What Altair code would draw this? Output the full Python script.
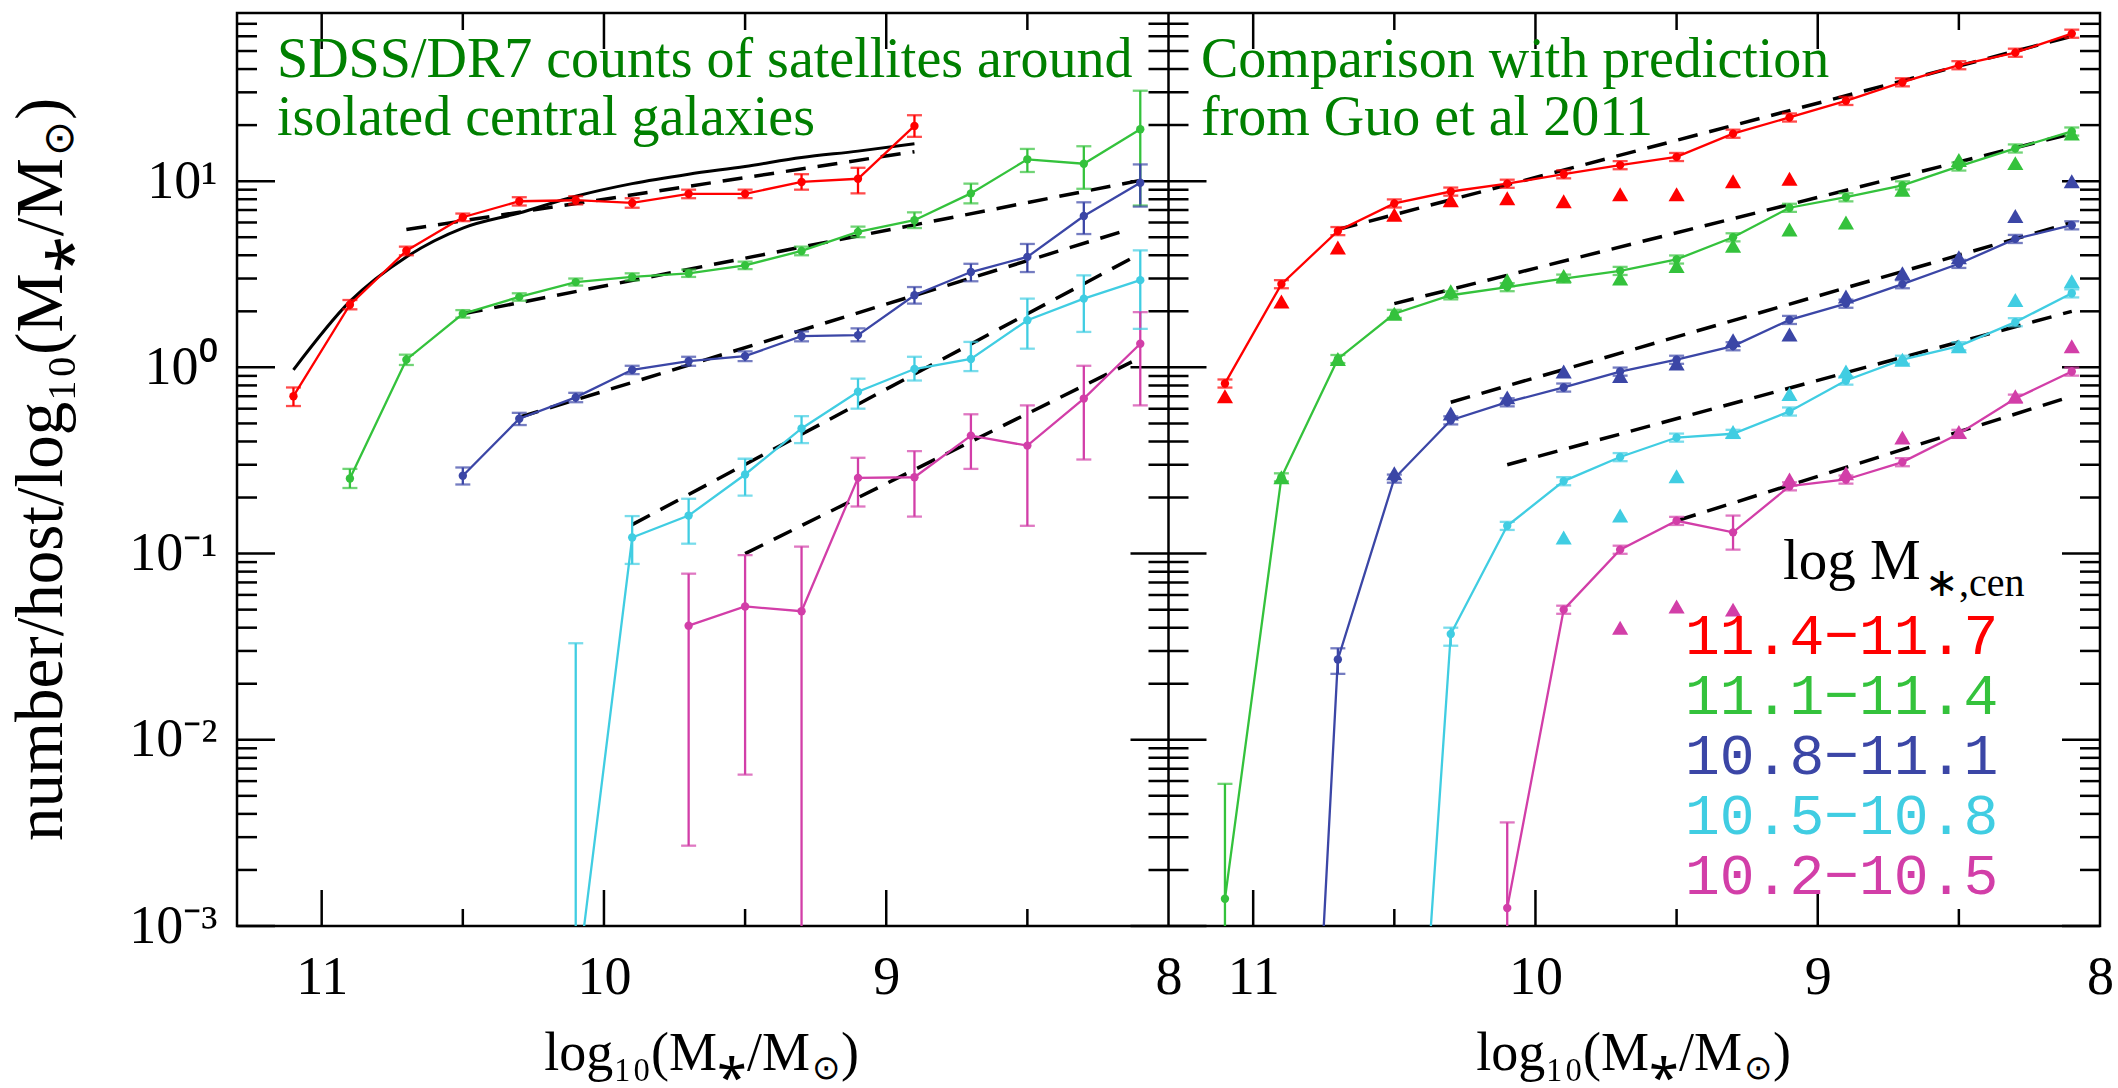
import altair as alt
import pandas as pd

# ---------------- data ----------------
BINS = ["11.4\u221211.7", "11.1\u221211.4", "10.8\u221211.1", "10.5\u221210.8", "10.2\u221210.5"]
COLORS = ["#ff0000", "#34c23c", "#3b46a6", "#40cde2", "#d23ea8"]

GRID = [11.1, 10.9, 10.7, 10.5, 10.3, 10.1, 9.9, 9.7, 9.5, 9.3, 9.1, 8.9, 8.7, 8.5, 8.3, 8.1]

# Left panel: SDSS/DR7 satellite counts (start index in GRID, values, lower, upper)
sdss_red_y = [0.70, 2.17, 4.23, 6.4, 7.8, 7.9, 7.64, 8.55, 8.55, 9.9, 10.3, 19.8]
sdss_red_lo = [0.62, 2.05, 4.0, 6.1, 7.4, 7.5, 7.2, 8.1, 8.1, 9.0, 8.6, 17.3]
sdss_red_hi = [0.78, 2.3, 4.45, 6.7, 8.2, 8.3, 8.1, 9.0, 9.0, 10.9, 11.8, 22.6]

sdss_green_y = [0.253, 1.1, 1.94, 2.39, 2.87, 3.06, 3.2, 3.53, 4.22, 5.34, 6.17, 8.6, 13.1, 12.4, 19.0]
sdss_green_lo = [0.225, 1.03, 1.85, 2.28, 2.75, 2.93, 3.06, 3.37, 4.0, 5.0, 5.6, 7.6, 11.2, 9.1, 7.4]
sdss_green_hi = [0.285, 1.17, 2.03, 2.5, 3.0, 3.2, 3.35, 3.7, 4.45, 5.7, 6.8, 9.7, 14.9, 15.4, 30.6]

sdss_blue_y = [0.262, 0.53, 0.69, 0.97, 1.08, 1.15, 1.47, 1.49, 2.44, 3.25, 3.92, 6.5, 9.8]
sdss_blue_lo = [0.235, 0.49, 0.65, 0.92, 1.02, 1.08, 1.38, 1.38, 2.2, 2.9, 3.25, 5.2, 7.3]
sdss_blue_hi = [0.29, 0.57, 0.73, 1.02, 1.14, 1.22, 1.56, 1.62, 2.7, 3.6, 4.6, 7.7, 12.3]

sdss_cyan_y = [0.00043, 0.122, 0.16, 0.266, 0.47, 0.74, 0.98, 1.11, 1.79, 2.34, 2.94]
sdss_cyan_lo = [1e-6, 0.088, 0.113, 0.205, 0.392, 0.60, 0.85, 0.955, 1.26, 1.55, 1.61]
sdss_cyan_hi = [0.033, 0.159, 0.197, 0.323, 0.547, 0.87, 1.14, 1.37, 2.34, 3.12, 4.25]

sdss_mag_y = [0.041, 0.052, 0.049, 0.255, 0.257, 0.43, 0.38, 0.68, 1.34]
sdss_mag_lo = [0.0027, 0.0065, 1e-6, 0.179, 0.158, 0.285, 0.141, 0.32, 0.625]
sdss_mag_hi = [0.078, 0.098, 0.109, 0.327, 0.355, 0.56, 0.625, 1.02, 1.98]

SDSS = [
    (0, sdss_red_y, sdss_red_lo, sdss_red_hi),
    (1, sdss_green_y, sdss_green_lo, sdss_green_hi),
    (3, sdss_blue_y, sdss_blue_lo, sdss_blue_hi),
    (5, sdss_cyan_y, sdss_cyan_lo, sdss_cyan_hi),
    (7, sdss_mag_y, sdss_mag_lo, sdss_mag_hi),
]

# Black solid curve (left panel)
black_y = [0.97, 2.26, 3.92, 5.6, 6.75, 8.3, 9.7, 10.9, 12.0, 13.4, 14.5, 15.9]

# Right panel: model counts (lines with points), start index in GRID
guo_red_y = [0.82, 2.8, 5.4, 7.6, 8.8, 9.7, 10.9, 12.2, 13.5, 18.0, 22.0, 27.0, 34.0, 42.0, 49.0, 62.0]
guo_green_y = [0.0014, 0.257, 1.11, 1.94, 2.44, 2.7, 3.0, 3.3, 3.8, 5.0, 7.2, 8.2, 9.5, 12.0, 15.0, 18.5]
guo_blue_y = [5e-8, 0.027, 0.253, 0.52, 0.65, 0.78, 0.95, 1.1, 1.3, 1.8, 2.2, 2.8, 3.6, 4.9, 5.8]
guo_cyan_y = [1.3e-6, 0.037, 0.141, 0.245, 0.33, 0.42, 0.44, 0.58, 0.85, 1.1, 1.3, 1.75, 2.5]
guo_mag_y = [0.00125, 0.05, 0.105, 0.15, 0.13, 0.23, 0.25, 0.31, 0.44, 0.68, 0.95]
GUO = [(0, guo_red_y), (0, guo_green_y), (1, guo_blue_y), (3, guo_cyan_y), (5, guo_mag_y)]
GUO_REL_ERR = 0.05
# larger model error bars: (bin index, x, lower, upper)
guo_err = [(1, 11.1, 1e-6, 0.0058), (2, 10.7, 0.0226, 0.031), (3, 10.3, 0.032, 0.040),
           (4, 10.1, 1e-6, 0.0036), (4, 9.3, 0.105, 0.16)]

# Right panel: triangles (second model), start index in GRID
tri_red_y = [0.70, 2.26, 4.4, 6.6, 7.9, 8.1, 7.8, 8.5, 8.5, 10.0, 10.3]
tri_green_y = [0.257, 1.11, 1.94, 2.56, 2.94, 3.1, 3.0, 3.5, 4.5, 5.5, 6.0, 9.0, 13.0, 12.5, 18.0]
tri_blue_y = [0.27, 0.565, 0.69, 0.95, 0.9, 1.05, 1.4, 1.5, 2.4, 3.2, 3.9, 6.5, 10.0]
tri_cyan_y = [0.122, 0.16, 0.26, 0.45, 0.72, 0.95, 1.1, 1.3, 2.3, 2.9]
tri_mag_y = [0.04, 0.052, 0.05, 0.25, 0.27, 0.42, 0.45, 0.7, 1.3]
TRI = [(0, tri_red_y), (1, tri_green_y), (3, tri_blue_y), (6, tri_cyan_y), (7, tri_mag_y)]

# Dashed power-law lines: (x1, y1, x2, y2)
fit_left = [(10.7, 5.5, 8.9, 14.4), (10.5, 1.94, 8.1, 10.1), (10.3, 0.54, 8.15, 5.45),
            (9.9, 0.143, 8.1, 4.08), (9.5, 0.10, 8.13, 1.07)]
fit_right = [(10.7, 5.5, 8.1, 60.0), (10.5, 2.2, 8.1, 18.0), (10.3, 0.65, 8.1, 6.0),
             (10.1, 0.30, 8.1, 2.0), (9.5, 0.15, 8.1, 0.7)]

TITLE_LEFT = "SDSS/DR7 counts of satellites around\nisolated central galaxies"
TITLE_RIGHT = "Comparison with prediction\nfrom Guo et al 2011"
XTITLE = ["log\u2081\u2080(M\u204e/M", "\u2299", ")"]
YTITLE = ["number/host/log\u2081\u2080(M\u204e/M", "\u2299", ")"]
LEG_TITLE = ["log M", "\u2217,cen"]

Y_MAJOR = [0.001, 0.01, 0.1, 1, 10]
Y_MINOR = [m * 10.0 ** k for k in range(-3, 2) for m in range(2, 10) if m * 10.0 ** k < 80]
X_MAJOR = [11, 10, 9]
X_MINOR = [10.5, 9.5, 8.5]

# ---------------- tables ----------------
err_map = {(BINS[b], x): (lo, hi) for b, x, lo, hi in guo_err}
pts_rows = []
for b, (start, ys, los, his) in enumerate(SDSS):
    for i, (v, lo, hi) in enumerate(zip(ys, los, his)):
        pts_rows.append(dict(panel=0, bin=BINS[b], x=GRID[start + i], y=v, lo=lo, hi=hi))
for b, (start, ys) in enumerate(GUO):
    for i, v in enumerate(ys):
        x = GRID[start + i]
        lo, hi = err_map.get((BINS[b], x), (v * (1 - GUO_REL_ERR), v * (1 + GUO_REL_ERR)))
        pts_rows.append(dict(panel=1, bin=BINS[b], x=x, y=v, lo=lo, hi=hi))
pts = pd.DataFrame(pts_rows)

tri = pd.DataFrame([dict(panel=1, bin=BINS[b], x=GRID[s + i], y=v)
                    for b, (s, ys) in enumerate(TRI) for i, v in enumerate(ys)])

fit_rows = []
for p, fits in ((0, fit_left), (1, fit_right)):
    for b, (x1, y1, x2, y2) in enumerate(fits):
        fit_rows.append(dict(panel=p, bin=BINS[b], key=f"{p}_{b}", x=x1, y=y1))
        fit_rows.append(dict(panel=p, bin=BINS[b], key=f"{p}_{b}", x=x2, y=y2))
fits_df = pd.DataFrame(fit_rows)

black = pd.DataFrame(dict(panel=0, x=GRID[:len(black_y)], y=black_y))

# ---------------- encodings ----------------
W, H = 1863, 913
U = "datum.panel * 3.3 + 11.3 - datum.x"
XS = alt.Scale(domain=[0, 6.6], nice=False, zero=False)
YS = alt.Scale(type="log", domain=[0.001, 80], nice=False)
FONT = "Liberation Serif"

XAX = alt.Axis(values=[0.3, 1.3, 2.3, 3.3, 3.6, 4.6, 5.6, 6.6],
               labelExpr="round(datum.value < 3.31 ? 11.3 - datum.value : 14.6 - datum.value)",
               ticks=False, domain=False, grid=False, labelFont=FONT, labelFontSize=54,
               labelColor="black", labelPadding=24, labelOverlap=False, labelFlush=False,
               labelBound=False, title=None)
YAX = alt.Axis(values=Y_MAJOR,
               labelExpr="'10' + (datum.value >= 9 ? '\u00b9' : datum.value >= 0.9 ? '\u2070' : "
                         "datum.value >= 0.09 ? '\u207b\u00b9' : datum.value >= 0.009 ? '\u207b\u00b2' : '\u207b\u00b3')",
               ticks=False, domain=False, grid=False, labelFont=FONT, labelFontSize=54,
               labelColor="black", labelPadding=20, labelOverlap=False, labelFlush=False,
               labelBound=False, title=None)

X = alt.X("u:Q", scale=XS, axis=XAX)
Y = alt.Y("y:Q", scale=YS, axis=YAX)
C = alt.Color("bin:N", scale=alt.Scale(domain=BINS, range=COLORS), legend=None)


def base(df):
    return alt.Chart(df).transform_calculate(u=U)


layers = []

# tick marks drawn inside the frame
def yticks(values, u0, o1, o2):
    df = pd.DataFrame({"y": values, "u": u0})
    return alt.Chart(df).mark_rule(color="black", strokeWidth=2.5, xOffset=o1, x2Offset=o2).encode(
        x=X, x2=alt.X2("u:Q"), y=Y)

for vals, L in ((Y_MAJOR, 38), (Y_MINOR, 20)):
    layers.append(yticks(vals, 0.0, 0, L))
    layers.append(yticks(vals, 3.3, -L, L))
    layers.append(yticks(vals, 6.6, -L, 0))


def xticks(values, L):
    df = pd.DataFrame([dict(panel=p, x=v) for p in (0, 1) for v in values])
    top = base(df).mark_rule(color="black", strokeWidth=2.5).encode(
        x=X, y=alt.value(0), y2=alt.value(L))
    bot = base(df).mark_rule(color="black", strokeWidth=2.5).encode(
        x=X, y=alt.value(H), y2=alt.value(H - L))
    return [top, bot]

layers += xticks(X_MAJOR, 36)
layers += xticks(X_MINOR, 17)

# middle boundary
mid = pd.DataFrame(dict(panel=[0], x=[8.0]))
layers.append(base(mid).mark_rule(color="black", strokeWidth=2.5).encode(
    x=X, y=alt.value(0), y2=alt.value(H)))

# dashed fits
layers.append(base(fits_df).mark_line(color="black", strokeWidth=3.5, strokeDash=[20, 12], clip=True).encode(
    x=X, y=Y, detail=alt.Detail("key:N")))
# black curve
layers.append(base(black).mark_line(color="black", strokeWidth=3, interpolate="monotone", clip=True).encode(
    x=X, y=Y))

# coloured lines
layers.append(base(pts).mark_line(strokeWidth=2.3, clip=True).encode(
    x=X, y=Y, color=C, detail=alt.Detail("panel:N")))
# error bars
layers.append(base(pts).mark_rule(strokeWidth=2.3, clip=True).encode(
    x=X, y=alt.Y("lo:Q", scale=YS, axis=YAX), y2=alt.Y2("hi:Q"), color=C))
for fld in ("lo", "hi"):
    layers.append(base(pts).mark_tick(orient="horizontal", size=15, thickness=2.3, clip=True).encode(
        x=X, y=alt.Y(f"{fld}:Q", scale=YS, axis=YAX), color=C))
# points
layers.append(base(pts).mark_circle(size=70, opacity=1, clip=True).encode(x=X, y=Y, color=C))
# triangles
layers.append(base(tri).mark_point(shape="triangle-up", filled=True, size=260, opacity=1, clip=True).encode(
    x=X, y=Y, color=C))

# ---------------- text ----------------
def text(t, x, y, size, color="black", font=FONT, align="left", baseline="alphabetic",
         lh=None, angle=None, dy=None):
    kw = dict(align=align, baseline=baseline, font=font, fontSize=size, color=color, lineBreak="\n")
    if lh:
        kw["lineHeight"] = lh
    if angle is not None:
        kw["angle"] = angle
    if dy is not None:
        kw["dy"] = dy
    return alt.Chart(pd.DataFrame({"t": [t]})).mark_text(**kw).encode(
        x=alt.value(x), y=alt.value(y), text="t:N")

layers.append(text(TITLE_LEFT, 40, 64, 56, color="#008000", lh=58))
layers.append(text(TITLE_RIGHT, 964, 64, 56, color="#008000", lh=58))

# x titles (main part, small subscript sun, closing parenthesis)
for J in (573, 1505):
    layers.append(text(XTITLE[0], J, 1057, 54, align="right"))
    layers.append(text(XTITLE[1], J + 2, 1057, 34, align="left", dy=9))
    layers.append(text(XTITLE[2], J + 31, 1057, 54, align="left"))

# y title, rotated
P = 145
layers.append(text(YTITLE[0], -175, P, 67, align="right", angle=270))
layers.append(text(YTITLE[1], -175, P - 2, 42, align="left", angle=270, dy=11))
layers.append(text(YTITLE[2], -175, P - 38, 67, align="left", angle=270))

# legend
layers.append(text(LEG_TITLE[0], 1546, 566, 57))
layers.append(text(LEG_TITLE[1], 1688, 583, 40))
LEG_Y = [641, 701, 761, 821, 881]
for lab, col, yy in zip(BINS, COLORS, LEG_Y):
    layers.append(text(lab, 1448, yy, 58, color=col, font="Liberation Mono"))

chart = alt.layer(*layers).properties(
    width=W, height=H,
    autosize=alt.AutoSizeParams(type="none"),
    padding={"left": 237, "top": 13, "right": 18, "bottom": 162},
    background="white",
).configure_view(stroke="black", strokeWidth=2.5)

chart.save("out.html", embed_options={"renderer": "svg", "actions": False})
